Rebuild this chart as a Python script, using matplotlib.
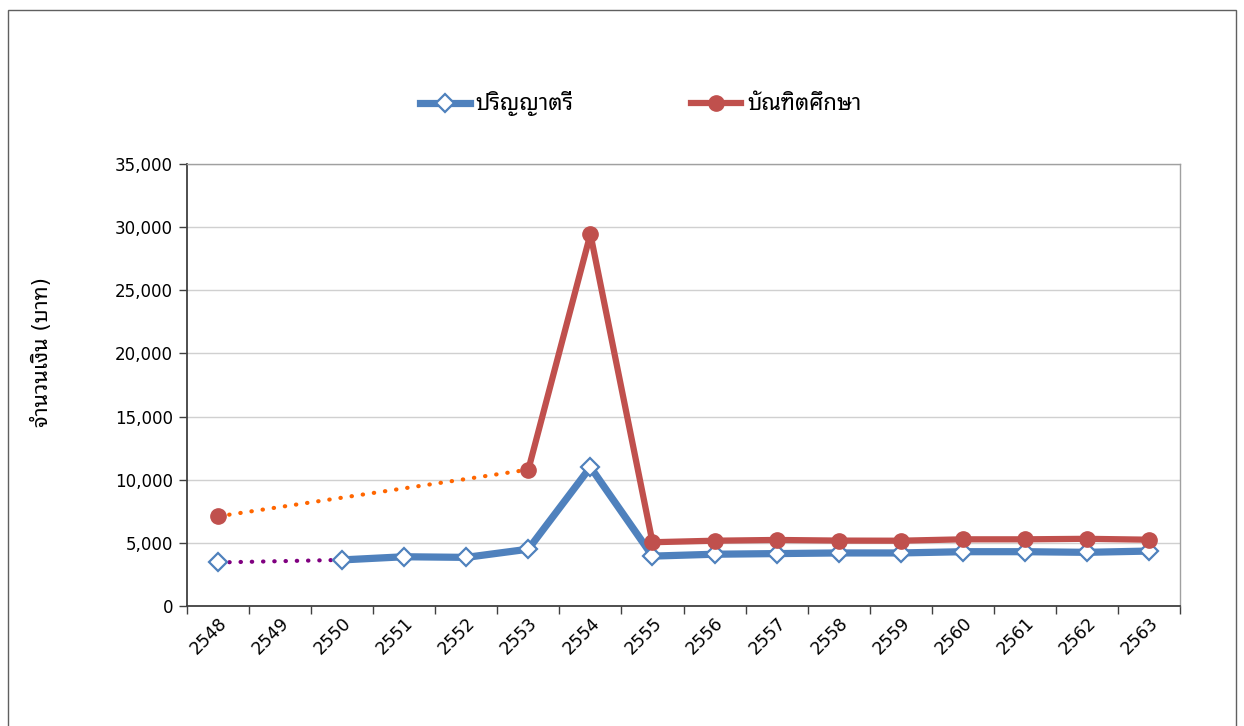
import numpy as np
import matplotlib.pyplot as plt
from matplotlib.patches import Rectangle
from matplotlib.ticker import FuncFormatter

plt.rcParams['font.family'] = ['DejaVu Sans', 'Noto Sans Thai Looped']

years = ['2548', '2549', '2550', '2551', '2552', '2553', '2554', '2555',
         '2556', '2557', '2558', '2559', '2560', '2561', '2562', '2563']
# ปริญญาตรี (2549 ไม่มีข้อมูล)
bachelor = [3450, np.nan, 3650, 3900, 3850, 4500, 11000, 3950,
            4100, 4150, 4200, 4200, 4300, 4300, 4250, 4350]
# บัณฑิตศึกษา (2549-2552 ไม่มีข้อมูล)
graduate = [7100, np.nan, np.nan, np.nan, np.nan, 10800, 29450, 5050,
            5170, 5230, 5180, 5170, 5280, 5280, 5320, 5250]
series_names = ['ปริญญาตรี', 'บัณฑิตศึกษา']
ylabel = 'จำนวนเงิน (บาท)'

blue = '#4F81BD'
red = '#C0504D'

fig = plt.figure(figsize=(12.44, 7.26), dpi=100)
ax = fig.add_axes([187/1244, 1 - 606/726, (1180-187)/1244, (606-164)/726])

x = np.arange(len(years))
b = np.array(bachelor)
g = np.array(graduate)

# เส้นประเชื่อมช่วงที่ไม่มีข้อมูล
ax.plot([x[0], x[2]], [b[0], b[2]], color='#800080', lw=3,
        linestyle=(0, (0.1, 2.6)), dash_capstyle='round', zorder=2)
ax.plot([x[0], x[5]], [g[0], g[5]], color='#FF6600', lw=3,
        linestyle=(0, (0.1, 2.6)), dash_capstyle='round', zorder=2)

ax.plot(x, b, color=blue, lw=5.2, marker='D', markersize=9.5,
        markerfacecolor='white', markeredgecolor=blue, markeredgewidth=1.6,
        label=series_names[0], zorder=3)
ax.plot(x, g, color=red, lw=4.5, marker='o', markersize=11,
        markerfacecolor=red, markeredgecolor=red,
        label=series_names[1], zorder=4)

ax.set_xlim(-0.5, len(years) - 0.5)
ax.set_ylim(0, 35000)
ax.set_yticks(np.arange(0, 35001, 5000))
ax.yaxis.set_major_formatter(FuncFormatter(lambda v, p: f'{v:,.0f}'))
ax.grid(axis='y', color='#D0D0D0', lw=1)
ax.set_axisbelow(True)

ax.set_xticks(x)
ax.set_xticklabels(years, rotation=45, ha='right', va='top', rotation_mode='anchor')
ax.set_xticks(np.arange(-0.5, len(years), 1), minor=True)
ax.tick_params(axis='x', which='major', length=0, pad=6, labelsize=12.5)
ax.tick_params(axis='x', which='minor', length=6, width=1, color='#404040')
ax.tick_params(axis='y', length=6, width=1, color='#404040', labelsize=12, pad=4)

for s in ['top', 'right']:
    ax.spines[s].set_color('#A0A0A0')
    ax.spines[s].set_linewidth(1)
for s in ['left', 'bottom']:
    ax.spines[s].set_color('#404040')
    ax.spines[s].set_linewidth(1.3)

ax.set_ylabel(ylabel, fontsize=15.5)
ax.yaxis.set_label_coords(-0.136, 0.575)

h, l = ax.get_legend_handles_labels()
fig.legend(h, l, loc='center', bbox_to_anchor=(0.515, 1 - 104/726), ncol=2,
           frameon=False, fontsize=16, columnspacing=5.3, handlelength=2.25,
           handletextpad=0.27)

fig.patches.append(Rectangle((8/1244, -0.05), (1236-8)/1244, 1.05 - 10/726,
                             transform=fig.transFigure, fill=False,
                             edgecolor='#606060', lw=1))

fig.savefig('out.png', dpi=100)
